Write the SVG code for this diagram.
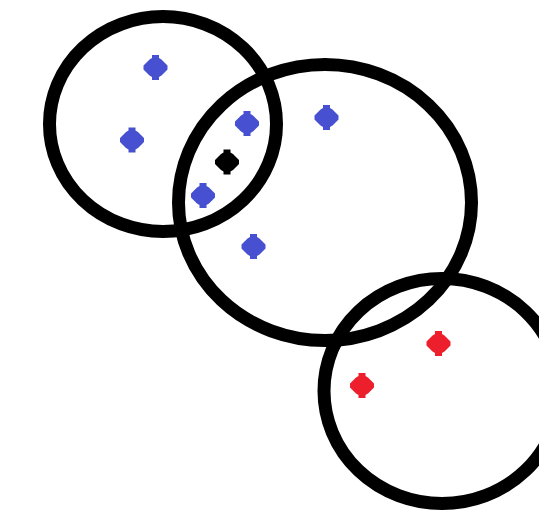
<svg xmlns="http://www.w3.org/2000/svg" width="539" height="522" viewBox="0 0 539 522">
<style>
.ring{fill:none;stroke:#000;stroke-width:13}
.blue{fill:#4650D0}
.red{fill:#EE1F2D}
.blk{fill:#000}
</style>
<defs>
<path id="dia" d="M-3.5,-12.5H3.5V-9.5L6,-8L12,-2V2L6,8L3.5,9.5V12.5H-3.5V9.5L-6,8L-12,2V-2L-6,-8L-3.5,-9.5Z"/>
</defs>
<rect width="539" height="522" fill="#fff"/>
<g id="set-a"><ellipse class="ring" cx="163" cy="124" rx="113.5" ry="107.5"/></g>
<g id="set-b"><ellipse class="ring" cx="325" cy="202.5" rx="146.5" ry="138"/></g>
<g id="set-c"><ellipse class="ring" cx="442" cy="391" rx="118" ry="112.5"/></g>
<g id="connectors"></g>
<g id="p1"><use href="#dia" class="blue" x="155.5" y="67.5"/></g>
<g id="p2"><use href="#dia" class="blue" x="132" y="140"/></g>
<g id="p3"><use href="#dia" class="blue" x="247" y="123.5"/></g>
<g id="p4"><use href="#dia" class="blk" x="227" y="162"/></g>
<g id="p5"><use href="#dia" class="blue" x="203" y="195.5"/></g>
<g id="p6"><use href="#dia" class="blue" x="253.5" y="246.5"/></g>
<g id="p7"><use href="#dia" class="blue" x="326.5" y="117.5"/></g>
<g id="p8"><use href="#dia" class="red" x="438.5" y="343.5"/></g>
<g id="p9"><use href="#dia" class="red" x="362" y="385.5"/></g>
</svg>
